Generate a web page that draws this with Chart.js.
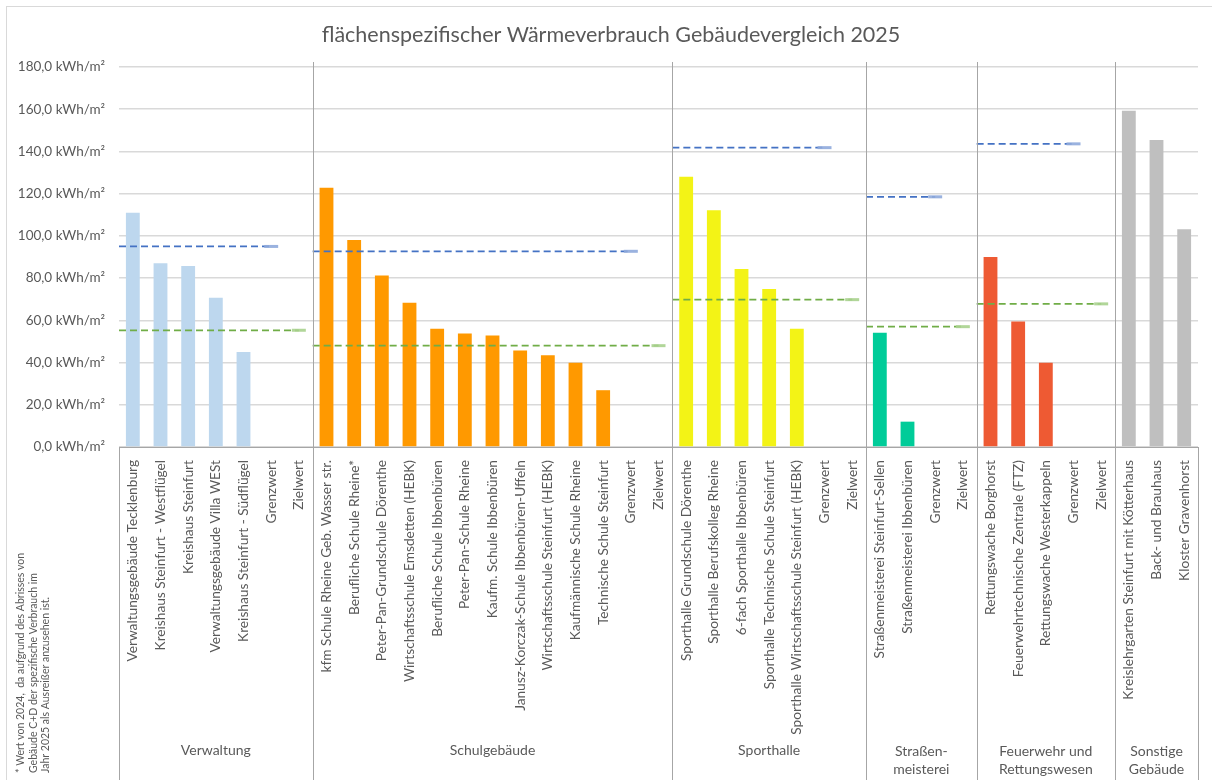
<!DOCTYPE html>
<html>
<head>
<meta charset="utf-8">
<script src="https://cdn.jsdelivr.net/npm/chart.js@4.4.1/dist/chart.umd.min.js"></script>
<style>
html, body { margin: 0; padding: 0; background: #fff; }
</style>
</head>
<body>
<canvas id="canvas" width="1212" height="780"></canvas>
<script>
// Kategorien (Gebäude) in Reihenfolge der Achse
var labels = [
    'Verwaltungsgebäude Tecklenburg', 'Kreishaus Steinfurt - Westflügel', 'Kreishaus Steinfurt',
    'Verwaltungsgebäude Villa WESt', 'Kreishaus Steinfurt - Südflügel', 'Grenzwert', 'Zielwert',
    'kfm Schule Rheine Geb. Wasser str.', 'Berufliche Schule Rheine*', 'Peter-Pan-Grundschule Dörenthe',
    'Wirtschaftsschule Emsdetten (HEBK)', 'Berufliche Schule Ibbenbüren', 'Peter-Pan-Schule Rheine',
    'Kaufm. Schule Ibbenbüren', 'Janusz-Korczak-Schule Ibbenbüren-Uffeln', 'Wirtschaftsschule Steinfurt (HEBK)',
    'Kaufmännische Schule Rheine', 'Technische Schule Steinfurt', 'Grenzwert', 'Zielwert',
    'Sporthalle Grundschule Dörenthe', 'Sporthalle Berufskolleg Rheine', '6-fach Sporthalle Ibbenbüren',
    'Sporthalle Technische Schule Steinfurt', 'Sporthalle Wirtschaftsschule Steinfurt (HEBK)', 'Grenzwert', 'Zielwert',
    'Straßenmeisterei Steinfurt-Sellen', 'Straßenmeisterei Ibbenbüren', 'Grenzwert', 'Zielwert',
    'Rettungswache Borghorst', 'Feuerwehrtechnische Zentrale (FTZ)', 'Rettungswache Westerkappeln', 'Grenzwert', 'Zielwert',
    'Kreislehrgarten Steinfurt mit Kötterhaus', 'Back- und Brauhaus', 'Kloster Gravenhorst'
];

// kWh/m² je Gebäude
var values = [
    111, 87, 85.7, 70.7, 45, null, null,
    122.8, 98, 81.2, 68.3, 56, 53.8, 52.8, 45.7, 43.5, 39.9, 26.9, null, null,
    128, 112.2, 84.3, 74.8, 56, null, null,
    54.1, 12, null, null,
    90, 59.5, 39.9, null, null,
    159.3, 145.4, 103.1
];

var groupNames = ['Verwaltung', 'Schulgebäude', 'Sporthalle', 'Straßen-\nmeisterei', 'Feuerwehr und\nRettungswesen', 'Sonstige\nGebäude'];
var groupSizes = [7, 13, 7, 4, 5, 3];
var groupColors = ['#bdd7ee', '#ff9900', '#f3f316', '#00cc99', '#ee5a33', '#bfbfbf'];
var grenzwert = [95, 92.7, 141.8, 118.5, 143.6, null];
var zielwert = [55.3, 48, 69.8, 57, 67.8, null];

var yTicks = [0, 20, 40, 60, 80, 100, 120, 140, 160, 180];

var title = 'flächenspezifischer Wärmeverbrauch Gebäudevergleich 2025';
var footnote = [
    '* Wert von 2024,  da aufgrund des Abrisses von',
    'Gebäude C+D der spezifische Verbrauch im',
    'Jahr 2025 als Ausreißer anzusehen ist.'
];

var FONT = 'Lato';
var GREY = '#595959';

// Farben je Balken und Linien je Gruppe bauen
var barColors = [];
var gLine = [], zLine = [], gRad = [], zRad = [];
var start = 0;
groupSizes.forEach(function(n, g) {
    for (var i = 0; i < n; i++) barColors.push(groupColors[g]);
    if (grenzwert[g] != null) {
        var gi = labels.indexOf('Grenzwert', start);
        var zi = labels.indexOf('Zielwert', start);
        gLine.push({x: start, y: grenzwert[g]}, {x: gi + 0.5, y: grenzwert[g]}, {x: gi + 0.6, y: null});
        zLine.push({x: start, y: zielwert[g]}, {x: zi + 0.5, y: zielwert[g]}, {x: zi + 0.6, y: null});
        gRad.push(0, 7, 0);
        zRad.push(0, 7, 0);
    }
    start += n;
});

var groupPlugin = {
    id: 'groupPlugin',
    beforeDraw: function(chart) {
        var ctx = chart.ctx;
        ctx.save();
        ctx.strokeStyle = '#d9d9d9';
        ctx.lineWidth = 1;
        ctx.strokeRect(6.5, 6.5, 1300, 900);
        // Titel
        ctx.fillStyle = GREY;
        ctx.font = '21.5px ' + FONT;
        ctx.textAlign = 'center';
        ctx.textBaseline = 'middle';
        ctx.fillText(title, 611, 35);
        ctx.restore();
    },
    afterDatasetsDraw: function(chart) {
        var ctx = chart.ctx;
        var xl = chart.scales.xl;
        var area = chart.chartArea;
        ctx.save();
        ctx.strokeStyle = '#a6a6a6';
        ctx.lineWidth = 1;
        var pos = 0;
        for (var g = 0; g <= groupSizes.length; g++) {
            var px = Math.round(xl.getPixelForValue(pos)) + 0.5;
            var top = (g == 0 || g == groupSizes.length) ? area.bottom : area.top - 5;
            ctx.beginPath();
            ctx.moveTo(px, top);
            ctx.lineTo(px, 780);
            ctx.stroke();
            if (g < groupSizes.length) pos += groupSizes[g];
        }
        // Gruppennamen
        ctx.fillStyle = GREY;
        ctx.font = '14px ' + FONT;
        ctx.textAlign = 'center';
        ctx.textBaseline = 'middle';
        pos = 0;
        groupNames.forEach(function(name, g) {
            var cx = xl.getPixelForValue(pos + groupSizes[g] / 2);
            var lines = name.split('\n');
            if (lines.length == 1) {
                ctx.fillText(lines[0], cx, 750);
            } else {
                ctx.fillText(lines[0], cx, 751);
                ctx.fillText(lines[1], cx, 769);
            }
            pos += groupSizes[g];
        });
        // Fußnote
        ctx.font = '10.5px ' + FONT;
        ctx.textAlign = 'left';
        footnote.forEach(function(t, i) {
            ctx.save();
            ctx.translate(21 + i * 12.5, 773);
            ctx.rotate(-Math.PI / 2);
            ctx.fillText(t, 0, 0);
            ctx.restore();
        });
        ctx.restore();
    }
};

var ctx = document.getElementById('canvas').getContext('2d');
var myChart = new Chart(ctx, {
    type: 'bar',
    data: {
        labels: labels,
        datasets: [{
            label: 'Wärmeverbrauch',
            data: values,
            backgroundColor: barColors,
            barPercentage: 0.5,
            categoryPercentage: 1,
            grouped: false,
            order: 2
        }, {
            type: 'line',
            label: 'Grenzwert',
            data: gLine,
            xAxisID: 'xl',
            borderColor: '#4472c4',
            borderWidth: 1.75,
            borderDash: [7, 4],
            pointStyle: 'line',
            pointRadius: gRad,
            pointBorderColor: 'rgba(143,170,220,0.9)',
            pointBorderWidth: 3,
            pointBackgroundColor: 'transparent',
            spanGaps: false,
            order: 1
        }, {
            type: 'line',
            label: 'Zielwert',
            data: zLine,
            xAxisID: 'xl',
            borderColor: '#70ad47',
            borderWidth: 1.75,
            borderDash: [7, 4],
            pointStyle: 'line',
            pointRadius: zRad,
            pointBorderColor: 'rgba(169,209,142,0.9)',
            pointBorderWidth: 3,
            pointBackgroundColor: 'transparent',
            spanGaps: false,
            order: 1
        }]
    },
    options: {
        responsive: false,
        animation: false,
        devicePixelRatio: 1,
        layout: { autoPadding: false, padding: { left: 0, right: 14, top: 67, bottom: 0 } },
        plugins: {
            legend: { display: false },
            tooltip: { enabled: false },
            title: { display: false }
        },
        scales: {
            x: {
                type: 'category',
                grid: { display: false },
                border: { display: true, color: '#a6a6a6', width: 1 },
                ticks: {
                    autoSkip: false,
                    minRotation: 90,
                    maxRotation: 90,
                    padding: 5,
                    color: GREY,
                    font: { family: FONT, size: 13.7 }
                },
                afterFit: function(scale) { scale.height = 333; }
            },
            xl: {
                type: 'linear',
                position: 'bottom',
                display: false,
                offset: false,
                grid: { offset: false },
                min: 0,
                max: labels.length
            },
            y: {
                min: 0,
                max: 180,
                afterBuildTicks: function(scale) {
                    scale.ticks = yTicks.map(function(v) { return {value: v}; });
                },
                grid: { color: '#d9d9d9', lineWidth: 1.5, drawTicks: false },
                border: { display: false },
                ticks: {
                    padding: 14,
                    color: GREY,
                    font: { family: FONT, size: 13.5 },
                    callback: function(v) { return v.toFixed(1).replace('.', ',') + ' kWh/m²'; }
                },
                afterFit: function(scale) { scale.width = 119; }
            }
        }
    },
    plugins: [groupPlugin]
});
</script>
</body>
</html>
